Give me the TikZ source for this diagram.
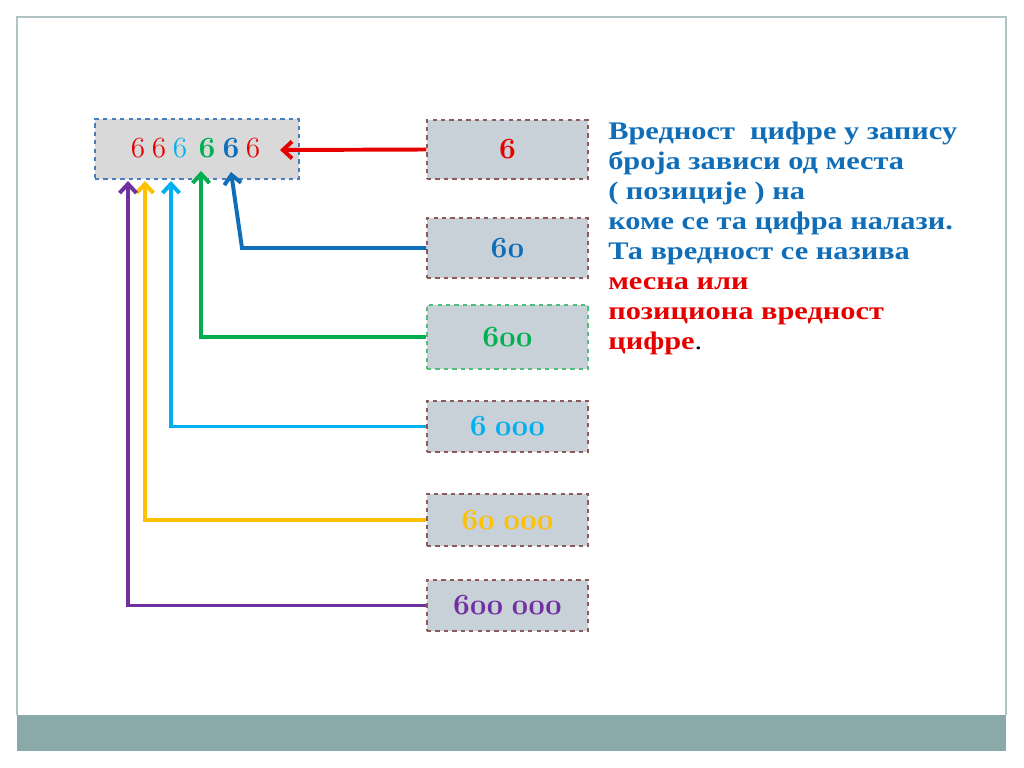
\documentclass[tikz,border=0pt]{standalone}
\usepackage{fontspec}
\setmainfont{Liberation Serif}
\newfontfamily\wideserif[FakeStretch=1.2]{Liberation Serif}
\usetikzlibrary{arrows.meta}
\definecolor{red6}{RGB}{230,0,0}
\definecolor{blue6}{RGB}{16,110,185}
\definecolor{green6}{RGB}{0,176,80}
\definecolor{cyan6}{RGB}{0,176,240}
\definecolor{yel6}{RGB}{255,192,0}
\definecolor{purple6}{RGB}{112,48,160}
\definecolor{boxfill}{RGB}{200,208,216}
\definecolor{brd}{RGB}{140,90,90}
\definecolor{grnbrd}{RGB}{80,190,120}
\definecolor{topfill}{RGB}{217,217,217}
\definecolor{topbrd}{RGB}{74,126,187}
\definecolor{frame}{RGB}{176,196,196}
\definecolor{band}{RGB}{138,170,170}
\newcommand\osb[1]{{\usefont{OML}{cmm}{b}{it}#1}}
\newcommand\gp{\hspace{.25em}}
\tikzset{
  numbox/.style={fill=boxfill, dashed, line width=0.8pt, minimum width=4.025cm, inner sep=0pt,
    font=\fontsize{22}{24}\selectfont},
  lnk/.style={line width=2.8pt, ->},
}
\begin{document}
\begin{tikzpicture}[x=0.025cm, y=-0.025cm, >={Straight Barb[length=6.5pt,width=12pt]}]
  \useasboundingbox (0,0) rectangle (1024,768);
  \fill[white] (0,0) rectangle (1024,768);
  % slide frame
  \draw[frame, line width=1.4pt] (17,715) -- (17,17) -- (1006,17) -- (1006,715);
  \fill[band] (17,715) rectangle (1006,751);
  % number box
  \node[fill=topfill, draw=topbrd, dashed, line width=0.8pt, minimum width=5.1cm, minimum height=1.5cm] (num) at (197,149) {};
  \foreach \i/\x/\c/\w in {1/138/red6/m, 2/159/red6/m, 3/180/cyan6/m, 4/207/green6/b, 5/231/blue6/b, 6/253/red6/m}
  {
    \node[text=\c, font=\fontsize{22}{24}\selectfont, anchor=base, inner sep=0pt] (d\i) at (\x,158) {\usefont{OML}{cmm}{\w}{it}6};
  }
  % place values
  \foreach \n/\y/\h/\c/\bc/\t in {1/149.5/59/red6/brd/6, 2/248/60/blue6/brd/60, 3/337/64/green6/grnbrd/600,
    4/426.5/51/cyan6/brd/{6\gp000}, 5/520/52/yel6/brd/{60\gp000}, 6/605.5/51/purple6/brd/{600\gp000}}
  {
    \node[numbox, draw=\bc, text=\c, minimum height=\h*0.025cm] (b\n) at (507.5,\y) {\osb{\t}};
  }
  \coordinate (t1) at (280,150);
  \coordinate (k2) at (242,248);
  \coordinate (t2) at (231,172);
  \coordinate (t3) at (201,171);
  \coordinate (t4) at (171,181);
  \coordinate (t5) at (145,181);
  \coordinate (t6) at (128,181);
  \draw[lnk, red6] (b1.west) -- (t1);
  \draw[lnk, blue6] (b2.west) -- (k2) -- (t2);
  \foreach \n/\c in {3/green6, 4/cyan6, 5/yel6, 6/purple6}
  {
    \draw[lnk, \c] (b\n.west) -| (t\n);
  }
  % explanation
  \node[anchor=north west, inner sep=0pt, align=left, text=blue6, font=\wideserif\bfseries\fontsize{18}{21.3}\selectfont] (txt) at (608,122)
    {Вредност\ \ цифре у запису\\броја зависи од места\\( позиције ) на\\коме се та цифра налази.\\Та вредност се назива\\
     \textcolor{red6}{месна или}\\\textcolor{red6}{позициона вредност}\\\textcolor{red6}{цифре}\textcolor{black}{\mdseries .}};
\end{tikzpicture}
\end{document}
